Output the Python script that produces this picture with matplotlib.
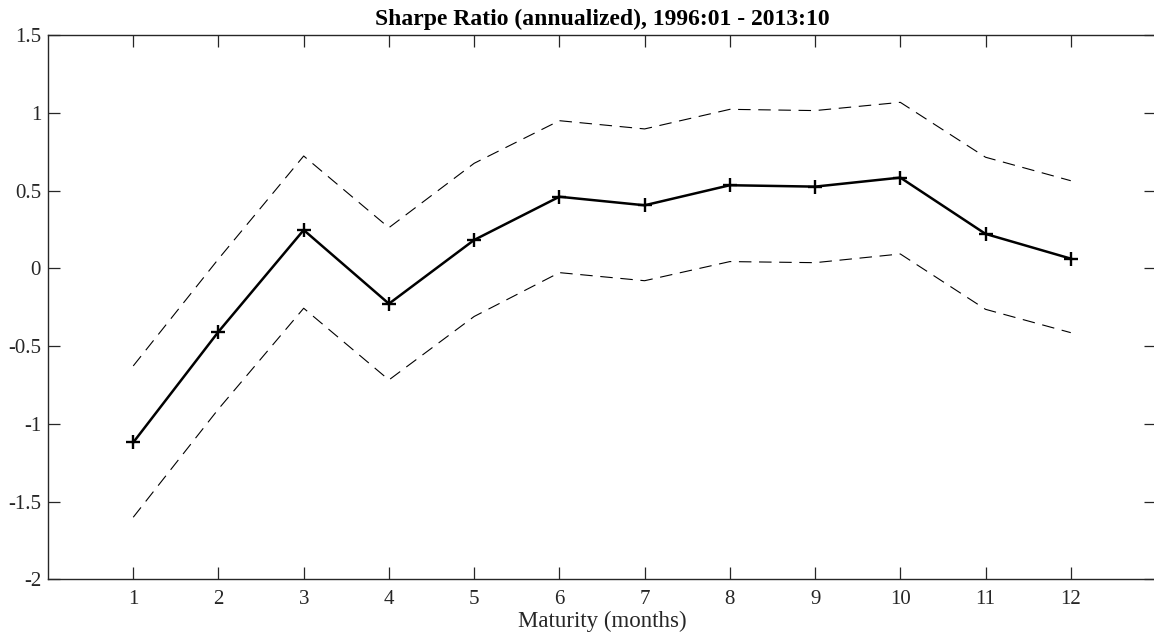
"""
Sharpe ratio par maturité, avec bandes de confiance (style MATLAB).
"""

import matplotlib
matplotlib.use("Agg")
import matplotlib.pyplot as plt

# Données
maturity = [1, 2, 3, 4, 5, 6, 7, 8, 9, 10, 11, 12]
sharpe = [-1.12, -0.408, 0.246, -0.228, 0.182, 0.460, 0.405, 0.534, 0.525, 0.583, 0.221, 0.062]
upper = [-0.628, 0.06, 0.722, 0.261, 0.675, 0.949, 0.896, 1.022, 1.014, 1.067, 0.714, 0.563]
lower = [-1.601, -0.905, -0.257, -0.718, -0.31, -0.028, -0.080, 0.043, 0.036, 0.092, -0.264, -0.414]
yticks = [-2, -1.5, -1, -0.5, 0, 0.5, 1, 1.5]
ytick_labels = ["-2", "-1.5", "-1", "-0.5", "0", "0.5", "1", "1.5"]

plt.rcParams["font.family"] = ["Liberation Serif", "DejaVu Serif"]
plt.rcParams["lines.scale_dashes"] = False

axis_color = "#262626"

fig = plt.figure(figsize=(11.54, 6.39), dpi=100)
ax = fig.add_axes([48 / 1154, (639 - 579.3) / 639, (1156 - 48) / 1154, (579.3 - 35) / 639])

# Courbe principale et bandes
ax.plot(maturity, sharpe, color="black", linewidth=1.8, marker="+",
        markersize=9.5, markeredgewidth=1.7)
ax.plot(maturity, upper, color="black", linewidth=0.8, linestyle=(0, (9, 5.5)))
ax.plot(maturity, lower, color="black", linewidth=0.8, linestyle=(0, (9, 5.5)))

ax.set_xlim(0, 13)
ax.set_ylim(-2, 1.5)
ax.set_xticks(maturity)
ax.set_yticks(yticks)
ax.set_yticklabels(ytick_labels)

for spine in ax.spines.values():
    spine.set_color(axis_color)
    spine.set_linewidth(1.0)
ax.tick_params(direction="in", length=8.6, width=0.9, color=axis_color,
               labelcolor=axis_color, labelsize=15, top=True, right=True)
ax.tick_params(axis="x", pad=8)
ax.tick_params(axis="y", pad=5)

ax.set_xlabel("Maturity (months)", fontsize=16.5, color=axis_color, labelpad=1)
ax.set_title("Sharpe Ratio (annualized), 1996:01 - 2013:10", fontsize=17,
             fontweight="bold", color="black", pad=7)

plt.savefig("out.png", dpi=100)
plt.close()
